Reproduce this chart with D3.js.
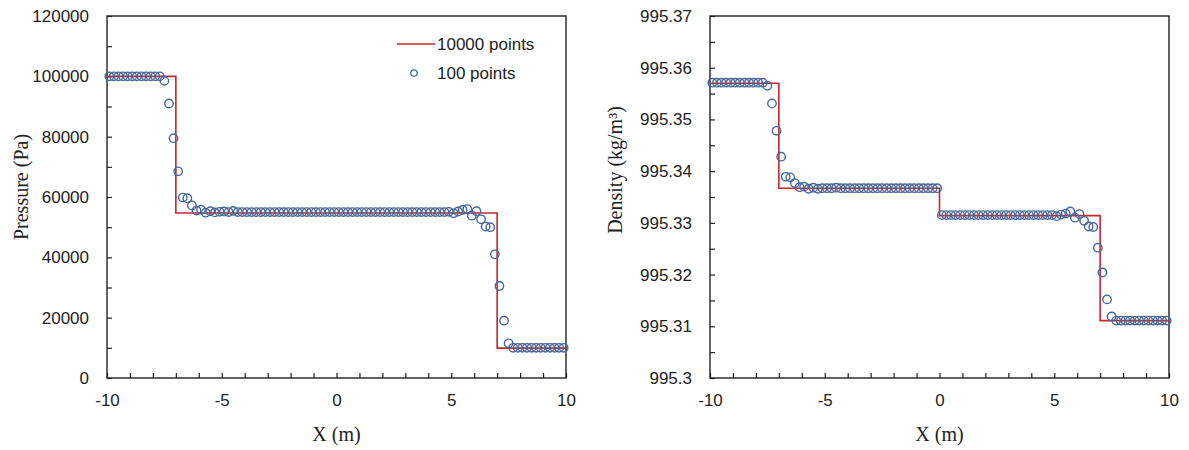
<!DOCTYPE html>
<html>
<head>
<meta charset="utf-8">
<title>Pressure and density profiles</title>
<script src="https://d3js.org/d3.v7.min.js"></script>
<style>
  body { margin: 0; background: #fff; }
  .tick text { font-family: "Liberation Sans", Arial, sans-serif; font-size: 17px; fill: #222; }
  .axis .domain { display: none; }
  .axis line { stroke: #222; stroke-width: 1.2; }
  .title { font-family: "Liberation Serif", "Times New Roman", serif; font-size: 20px; fill: #222; }
  .legend { font-family: "Liberation Sans", Arial, sans-serif; font-size: 17px; fill: #222; }
</style>
</head>
<body>
<svg width="1189" height="450"></svg>
<script>
// 100-point solution, cell centres
var xPoints = [-9.9, -9.7, -9.5, -9.3, -9.1, -8.9, -8.7, -8.5, -8.3, -8.1,
  -7.9, -7.7, -7.5, -7.3, -7.1, -6.9, -6.7, -6.5, -6.3, -6.1,
  -5.9, -5.7, -5.5, -5.3, -5.1, -4.9, -4.7, -4.5, -4.3, -4.1,
  -3.9, -3.7, -3.5, -3.3, -3.1, -2.9, -2.7, -2.5, -2.3, -2.1,
  -1.9, -1.7, -1.5, -1.3, -1.1, -0.9, -0.7, -0.5, -0.3, -0.1,
  0.1, 0.3, 0.5, 0.7, 0.9, 1.1, 1.3, 1.5, 1.7, 1.9,
  2.1, 2.3, 2.5, 2.7, 2.9, 3.1, 3.3, 3.5, 3.7, 3.9,
  4.1, 4.3, 4.5, 4.7, 4.9, 5.1, 5.3, 5.5, 5.7, 5.9,
  6.1, 6.3, 6.5, 6.7, 6.9, 7.1, 7.3, 7.5, 7.7, 7.9,
  8.1, 8.3, 8.5, 8.7, 8.9, 9.1, 9.3, 9.5, 9.7, 9.9];

var pressurePoints = [100000, 100000, 100000, 100000, 100000, 100000, 100000, 100000, 100000, 100000,
  100000, 100000, 98500, 91000, 79500, 68500, 59800, 59600, 57200, 55500,
  55800, 54800, 55300, 54900, 55100, 55200, 55000, 55400, 55000, 55000,
  55000, 55000, 55000, 55000, 55000, 55000, 55000, 55000, 55000, 55000,
  55000, 55000, 55000, 55000, 55000, 55000, 55000, 55000, 55000, 55000,
  55000, 55000, 55000, 55000, 55000, 55000, 55000, 55000, 55000, 55000,
  55000, 55000, 55000, 55000, 55000, 55000, 55000, 55000, 55000, 55000,
  55000, 55000, 55000, 55000, 55100, 54600, 55200, 55700, 56000, 53800,
  55300, 52600, 50200, 50000, 41000, 30500, 19000, 11500, 10000, 10000,
  10000, 10000, 10000, 10000, 10000, 10000, 10000, 10000, 10000, 10000];

var densityPoints = [995.3571, 995.3571, 995.3571, 995.3571, 995.3571, 995.3571, 995.3571, 995.3571, 995.3571, 995.3571,
  995.3571, 995.3571, 995.3565, 995.3531, 995.3478, 995.3428, 995.3389, 995.3388, 995.3377, 995.3369,
  995.3370, 995.3366, 995.3368, 995.3366, 995.3367, 995.3367, 995.3367, 995.3368, 995.3367, 995.3367,
  995.3367, 995.3367, 995.3367, 995.3367, 995.3367, 995.3367, 995.3367, 995.3367, 995.3367, 995.3367,
  995.3367, 995.3367, 995.3367, 995.3367, 995.3367, 995.3367, 995.3367, 995.3367, 995.3367, 995.3367,
  995.3315, 995.3315, 995.3315, 995.3315, 995.3315, 995.3315, 995.3315, 995.3315, 995.3315, 995.3315,
  995.3315, 995.3315, 995.3315, 995.3315, 995.3315, 995.3315, 995.3315, 995.3315, 995.3315, 995.3315,
  995.3315, 995.3315, 995.3315, 995.3315, 995.3315, 995.3313, 995.3316, 995.3318, 995.3322, 995.3310,
  995.3317, 995.3304, 995.3293, 995.3292, 995.3252, 995.3204, 995.3152, 995.3119, 995.3111, 995.3111,
  995.3111, 995.3111, 995.3111, 995.3111, 995.3111, 995.3111, 995.3111, 995.3111, 995.3111, 995.3111];

// 10000-point solution (step profile)
var pressureLineX = [-10, -7, -7, 7, 7, 10];
var pressureLine = [100000, 100000, 54700, 54700, 9900, 9900];
var densityLineX = [-10, -7, -7, 0, 0, 7, 7, 10];
var densityLine = [995.3570, 995.3570, 995.3367, 995.3367, 995.3314, 995.3314, 995.3111, 995.3111];

var xTicks = [-10, -5, 0, 5, 10];
var pressureTicks = [0, 20000, 40000, 60000, 80000, 100000, 120000];
var densityTicks = [995.30, 995.31, 995.32, 995.33, 995.34, 995.35, 995.36, 995.37];

var lineColor = "#c9252c";
var dotColor = "#46699b";

var svg = d3.select("svg");

function drawPanel(p) {
  var x = d3.scaleLinear().domain([-10, 10]).range([p.left, p.right]);
  var y = d3.scaleLinear().domain(p.yDomain).range([p.bottom, p.top]);
  var g = svg.append("g");

  // minor ticks, inside the frame
  g.append("g").attr("class", "axis")
    .attr("transform", "translate(0," + p.bottom + ")")
    .call(d3.axisBottom(x).tickValues(d3.range(-10, 11, 1)).tickSize(-5).tickFormat(""));
  g.append("g").attr("class", "axis")
    .attr("transform", "translate(" + p.left + ",0)")
    .call(d3.axisLeft(y).tickValues(p.yMinor).tickSize(-5).tickFormat(""));

  // labels (plain hyphen for negatives)
  g.append("g").attr("class", "axis")
    .attr("transform", "translate(0," + p.bottom + ")")
    .call(d3.axisBottom(x).tickValues(xTicks).tickSize(0).tickPadding(16)
      .tickFormat(function(d) { return String(d); }));
  g.append("g").attr("class", "axis")
    .attr("transform", "translate(" + p.left + ",0)")
    .call(d3.axisLeft(y).tickValues(p.yTicks).tickSize(0).tickPadding(18).tickFormat(p.fmt));

  // frame
  g.append("rect")
    .attr("x", p.left).attr("y", p.top)
    .attr("width", p.right - p.left).attr("height", p.bottom - p.top)
    .attr("fill", "none").attr("stroke", "#222").attr("stroke-width", 1.4);

  // step line
  var line = d3.line().x(function(d) { return x(d[0]); }).y(function(d) { return y(d[1]); });
  g.append("path")
    .datum(d3.zip(p.lineX, p.lineY))
    .attr("d", line)
    .attr("fill", "none").attr("stroke", lineColor).attr("stroke-width", 1.6);

  // coarse points
  g.selectAll("circle.pt")
    .data(d3.zip(xPoints, p.points))
    .enter().append("circle")
    .attr("class", "pt")
    .attr("cx", function(d) { return x(d[0]); })
    .attr("cy", function(d) { return y(d[1]); })
    .attr("r", 4.2)
    .attr("fill", "none")
    .attr("stroke", dotColor)
    .attr("stroke-width", 1.4);

  // axis titles
  g.append("text").attr("class", "title")
    .attr("text-anchor", "middle")
    .attr("x", (p.left + p.right) / 2).attr("y", 441)
    .text("X (m)");
  g.append("text").attr("class", "title")
    .attr("text-anchor", "middle")
    .attr("transform", "translate(" + p.titleX + "," + p.titleY + ") rotate(-90)")
    .attr("dy", "0.35em")
    .text(p.yTitle);
}

drawPanel({
  left: 107, right: 566, top: 16, bottom: 378,
  yDomain: [0, 120000],
  yTicks: pressureTicks,
  yMinor: d3.range(0, 120001, 10000),
  fmt: function(d) { return String(d); },
  points: pressurePoints,
  lineX: pressureLineX, lineY: pressureLine,
  yTitle: "Pressure (Pa)", titleX: 21, titleY: 187
});

drawPanel({
  left: 710, right: 1169, top: 16, bottom: 378,
  yDomain: [995.30, 995.37],
  yTicks: densityTicks,
  yMinor: d3.range(0, 15).map(function(i) { return 995.30 + i * 0.005; }),
  fmt: function(d) { return String(+d.toFixed(2)); },
  points: densityPoints,
  lineX: densityLineX, lineY: densityLine,
  yTitle: "Density (kg/m\u00b3)", titleX: 615, titleY: 170
});

// legend (left panel)
var legend = svg.append("g");
legend.append("line")
  .attr("x1", 397).attr("x2", 435).attr("y1", 44).attr("y2", 44)
  .attr("stroke", lineColor).attr("stroke-width", 1.6);
legend.append("text").attr("class", "legend")
  .attr("x", 437).attr("y", 44).attr("dy", "0.35em")
  .text("10000 points");
legend.append("circle")
  .attr("cx", 414).attr("cy", 73).attr("r", 3.2)
  .attr("fill", "none").attr("stroke", dotColor).attr("stroke-width", 1.3);
legend.append("text").attr("class", "legend")
  .attr("x", 437).attr("y", 73).attr("dy", "0.35em")
  .text("100 points");
</script>
</body>
</html>
